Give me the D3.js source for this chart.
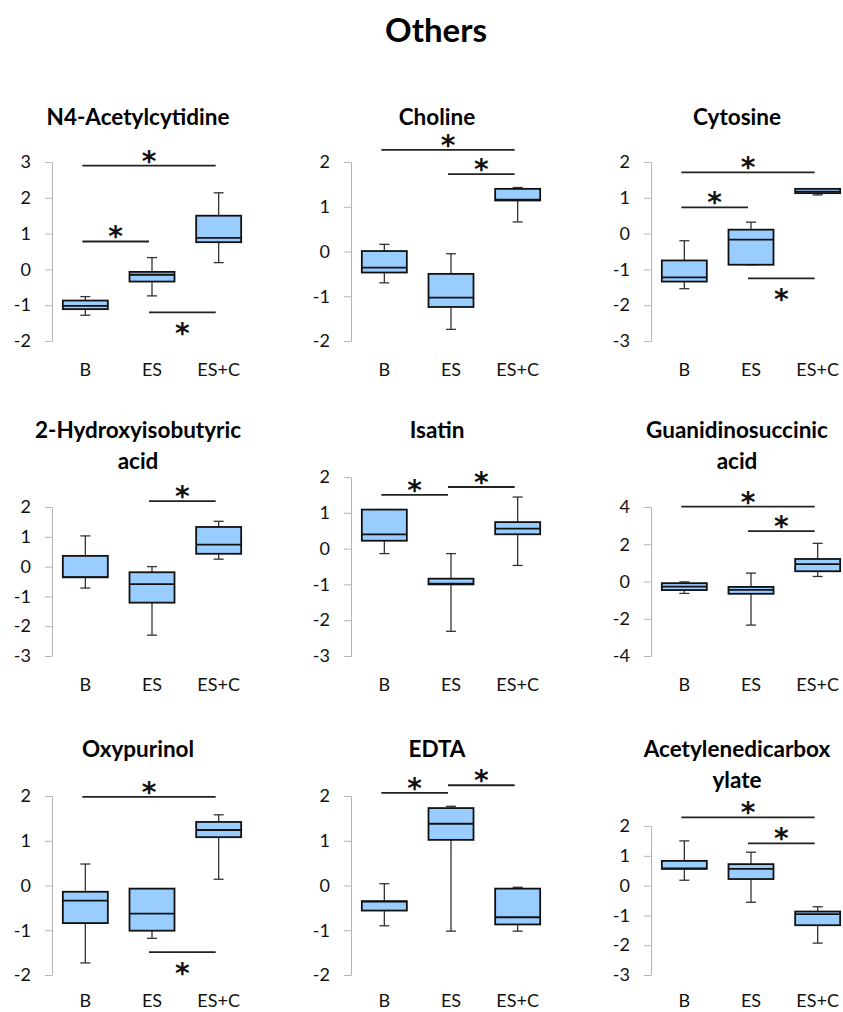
<!DOCTYPE html>
<html>
<head>
<meta charset="utf-8">
<script src="https://cdn.jsdelivr.net/npm/d3@7"></script>
<style>
  body { margin: 0; background: #fff; }
  svg { display: block; font-family: Lato, "Open Sans", sans-serif; }
</style>
</head>
<body>
<script>
// groups on every panel
const groups = ["B", "ES", "ES+C"];

// panel titles (line-wrapped like the original)
const titleLines = [
  ["N4-Acetylcytidine"], ["Choline"], ["Cytosine"],
  ["2-Hydroxyisobutyric", "acid"], ["Isatin"], ["Guanidinosuccinic", "acid"],
  ["Oxypurinol"], ["EDTA"], ["Acetylenedicarbox", "ylate"]
];

const yDomains = [[-2, 3], [-2, 2], [-3, 2], [-3, 2], [-3, 2], [-4, 4], [-2, 2], [-2, 2], [-3, 2]];
const yTickStep = [1, 1, 1, 1, 1, 2, 1, 1, 1];

// five-number summaries per panel, per group (B, ES, ES+C)
const whiskerLow = [
  [-1.28, -0.74, 0.19], [-0.70, -1.74, 0.66], [-1.54, -0.87, 1.08],
  [-0.72, -2.30, 0.25], [-0.14, -2.31, -0.47], [-0.64, -2.34, 0.27],
  [-1.73, -1.18, 0.14], [-0.90, -1.02, -1.02], [0.18, -0.56, -1.93]
];
const q1 = [
  [-1.11, -0.34, 0.76], [-0.47, -1.24, 1.14], [-1.34, -0.87, 1.13],
  [-0.36, -1.21, 0.43], [0.22, -1.00, 0.40], [-0.46, -0.66, 0.55],
  [-0.84, -1.01, 1.08], [-0.56, 1.02, -0.87], [0.56, 0.22, -1.33]
];
const median = [
  [-1.02, -0.15, 0.88], [-0.36, -1.03, 1.16], [-1.22, -0.17, 1.17],
  [-0.35, -0.59, 0.74], [0.40, -0.98, 0.56], [-0.27, -0.45, 0.93],
  [-0.34, -0.63, 1.24], [-0.36, 1.38, -0.71], [0.58, 0.56, -0.96]
];
const q3 = [
  [-0.87, -0.07, 1.50], [0.01, -0.50, 1.40], [-0.75, 0.11, 1.25],
  [0.36, -0.19, 1.33], [1.09, -0.84, 0.74], [-0.09, -0.29, 1.21],
  [-0.14, -0.07, 1.42], [-0.35, 1.73, -0.07], [0.83, 0.72, -0.87]
];
const whiskerHigh = [
  [-0.76, 0.33, 2.14], [0.16, -0.05, 1.43], [-0.20, 0.32, 1.25],
  [1.03, 0.00, 1.52], [1.09, -0.14, 1.44], [-0.02, 0.45, 2.05],
  [0.48, -0.07, 1.58], [0.04, 1.77, -0.04], [1.50, 1.12, -0.71]
];

// significance bars: [from group, to group, y value, star side]
const sigBars = [
  [["B", "ES+C", 2.90, "above"], ["B", "ES", 0.78, "above"], ["ES", "ES+C", -1.20, "below"]],
  [["B", "ES+C", 2.27, "above"], ["ES", "ES+C", 1.73, "above"]],
  [["B", "ES+C", 1.71, "above"], ["B", "ES", 0.73, "above"], ["ES", "ES+C", -1.25, "below"]],
  [["ES", "ES+C", 2.20, "above"]],
  [["B", "ES", 1.50, "above"], ["ES", "ES+C", 1.72, "above"]],
  [["B", "ES+C", 4.02, "above"], ["ES", "ES+C", 2.70, "above"]],
  [["B", "ES+C", 1.98, "above"], ["ES", "ES+C", -1.49, "below"]],
  [["B", "ES", 2.07, "above"], ["ES", "ES+C", 2.24, "above"]],
  [["B", "ES+C", 2.29, "above"], ["ES", "ES+C", 1.42, "above"]]
];

const width = 843, height = 1012;
const colAxisX = [52, 351, 651];
const rowBottom = [341, 656, 975];
const titleBase = [125, 438, 757];

const svg = d3.select("body").append("svg")
  .attr("width", width)
  .attr("height", height);

svg.append("text")
  .attr("x", 436)
  .attr("y", 42)
  .attr("text-anchor", "middle")
  .attr("font-size", 33)
  .attr("font-weight", "bold")
  .attr("fill", "#000")
  .text("Others");

titleLines.forEach((lines, i) => {
  const row = Math.floor(i / 3), col = i % 3;
  const ax = colAxisX[col];
  const bottom = rowBottom[row];
  const plotH = lines.length > 1 ? 149 : 179;

  const x = d3.scaleBand().domain(groups).range([ax, ax + 200]);
  const y = d3.scaleLinear().domain(yDomains[i]).range([bottom, bottom - plotH]);
  const cx = g => x(g) + x.bandwidth() / 2;

  const g = svg.append("g");

  // title
  g.append("text")
    .attr("text-anchor", "middle")
    .attr("font-size", 22.5)
    .attr("font-weight", "bold")
    .selectAll("tspan")
    .data(lines)
    .join("tspan")
    .attr("x", ax + 86)
    .attr("y", (d, k) => titleBase[row] + k * 31)
    .text(d => d);

  // y axis
  const [lo, hi] = yDomains[i];
  const yAxis = g.append("g")
    .attr("transform", `translate(${ax},0)`)
    .call(d3.axisLeft(y)
      .tickValues(d3.range(lo, hi + 0.001, yTickStep[i]))
      .tickSize(7)
      .tickSizeOuter(0)
      .tickPadding(14)
      .tickFormat(d3.format("d")));
  yAxis.select(".domain").attr("stroke", "#b5b5b5");
  yAxis.selectAll(".tick line").attr("stroke", "#b5b5b5");
  yAxis.selectAll(".tick text")
    .attr("font-size", 18)
    .attr("font-family", "Lato, 'Open Sans', sans-serif")
    .attr("fill", "#111")
    .text(d => d < 0 ? "-" + Math.abs(d) : d);

  // x labels
  g.selectAll(".xl")
    .data(groups)
    .join("text")
    .attr("x", d => cx(d))
    .attr("y", Math.min(bottom + 35, height - 5))
    .attr("text-anchor", "middle")
    .attr("font-size", 18)
    .attr("fill", "#111")
    .text(d => d);

  // boxes
  const bw = 45, cap = 10;
  groups.forEach((grp, j) => {
    const c = cx(grp);
    const bx = g.append("g");
    // whiskers
    bx.append("line")
      .attr("x1", c).attr("x2", c)
      .attr("y1", y(whiskerHigh[i][j])).attr("y2", y(q3[i][j]))
      .attr("stroke", "#333").attr("stroke-width", 1.3);
    bx.append("line")
      .attr("x1", c).attr("x2", c)
      .attr("y1", y(q1[i][j])).attr("y2", y(whiskerLow[i][j]))
      .attr("stroke", "#333").attr("stroke-width", 1.3);
    [whiskerHigh[i][j], whiskerLow[i][j]].forEach(v => {
      bx.append("line")
        .attr("x1", c - cap / 2).attr("x2", c + cap / 2)
        .attr("y1", y(v)).attr("y2", y(v))
        .attr("stroke", "#333").attr("stroke-width", 1.3);
    });
    bx.append("rect")
      .attr("x", c - bw / 2)
      .attr("y", y(q3[i][j]))
      .attr("width", bw)
      .attr("height", Math.max(1, y(q1[i][j]) - y(q3[i][j])))
      .attr("fill", "#99ccff")
      .attr("stroke", "#111")
      .attr("stroke-width", 1.8);
    bx.append("line")
      .attr("x1", c - bw / 2).attr("x2", c + bw / 2)
      .attr("y1", y(median[i][j])).attr("y2", y(median[i][j]))
      .attr("stroke", "#111").attr("stroke-width", 1.8);
  });

  // significance bars
  sigBars[i].forEach(([a, b, v, side]) => {
    const x1 = cx(a) - 3, x2 = cx(b) - 3;
    g.append("line")
      .attr("x1", x1).attr("x2", x2)
      .attr("y1", y(v)).attr("y2", y(v))
      .attr("stroke", "#222").attr("stroke-width", 1.8);
    g.append("text")
      .attr("x", (x1 + x2) / 2)
      .attr("y", side === "above" ? y(v) + 5 : y(v) + 31)
      .attr("text-anchor", "middle")
      .attr("font-family", "'DejaVu Sans', sans-serif")
      .attr("font-weight", "bold")
      .attr("font-size", 28)
      .attr("fill", "#111")
      .text("*");
  });
});
</script>
</body>
</html>
